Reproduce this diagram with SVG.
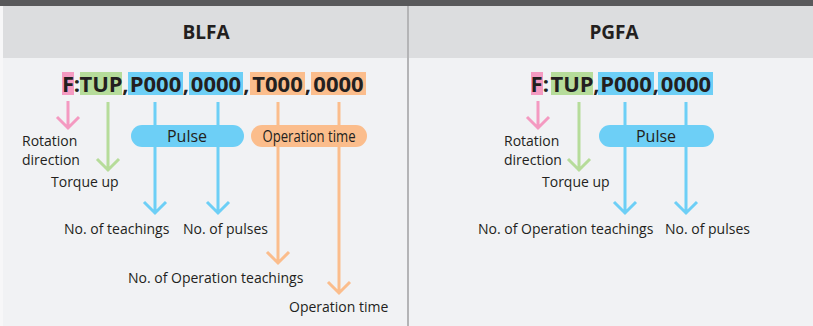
<svg xmlns="http://www.w3.org/2000/svg" width="813" height="326" viewBox="0 0 813 326">
<defs>
<style>
.lbl{font-family:"Open Sans","Liberation Sans",sans-serif;font-size:14px;fill:#231f20}
.ttl{font-family:"Open Sans","Liberation Sans",sans-serif;font-size:19px;font-weight:bold;fill:#231f20;text-anchor:middle}
.code{font-family:"Open Sans","Liberation Sans",sans-serif;font-size:22px;font-weight:bold;fill:#231f20;text-anchor:middle}
.pill{font-family:"Open Sans","Liberation Sans",sans-serif;font-size:16px;fill:#231f20;text-anchor:middle}
.a{fill:none;stroke-width:3;stroke-linejoin:miter}
.pk{stroke:#f49ac1}.gr{stroke:#b6dc9a}.bl{stroke:#6dcff6}.or{stroke:#fbbd8c}
</style>
</defs>
<rect x="0" y="0" width="813" height="326" fill="#f1f2f4"/>
<rect x="0" y="0" width="813" height="6" fill="#59595b"/>
<rect x="3" y="6" width="810" height="52" fill="#dcdddf"/>
<rect x="0" y="6" width="3" height="320" fill="#f7f7f8"/>
<rect x="407" y="6" width="2" height="320" fill="#b4b4b6"/>

<g id="blfa-header"><text class="ttl" x="206" y="39">BLFA</text></g>
<g id="pgfa-header"><text class="ttl" x="614" y="39">PGFA</text></g>

<g id="blfa-code">
<rect x="62" y="72" width="12" height="23" fill="#f49ac1"/>
<rect x="80" y="72" width="42" height="23" fill="#b6dc9a"/>
<rect x="128" y="72" width="55" height="23" fill="#6dcff6"/>
<rect x="189" y="72" width="54" height="23" fill="#6dcff6"/>
<rect x="250" y="72" width="55" height="23" fill="#fbbd8c"/>
<rect x="311" y="72" width="55" height="23" fill="#fbbd8c"/>
<text class="code" y="92"><tspan x="68">F</tspan><tspan x="77">:</tspan><tspan x="101">TUP</tspan><tspan x="125.5">,</tspan><tspan x="155.5">P000</tspan><tspan x="186">,</tspan><tspan x="216">0000</tspan><tspan x="246.5">,</tspan><tspan x="277.5">T000</tspan><tspan x="308">,</tspan><tspan x="338.5">0000</tspan></text>
</g>

<g id="pgfa-code">
<rect x="531" y="72" width="12" height="23" fill="#f49ac1"/>
<rect x="551" y="72" width="42" height="23" fill="#b6dc9a"/>
<rect x="598" y="72" width="56" height="23" fill="#6dcff6"/>
<rect x="658" y="72" width="55" height="23" fill="#6dcff6"/>
<text class="code" y="92"><tspan x="536.5">F</tspan><tspan x="546">:</tspan><tspan x="572">TUP</tspan><tspan x="596.5">,</tspan><tspan x="626">P000</tspan><tspan x="656">,</tspan><tspan x="686">0000</tspan></text>
</g>

<g id="connectors">
<path class="a pk" d="M68 101V127M57 117L68 128L79 117"/>
<path class="a gr" d="M108 102V169M97 159L108 170L119 159"/>
<path class="a bl" d="M155 102V212M144 202L155 213L166 202"/>
<path class="a bl" d="M218 102V212M207 202L218 213L229 202"/>
<path class="a or" d="M278 102V262M267 252L278 263L289 252"/>
<path class="a or" d="M339 102V292M328 282L339 293L350 282"/>
<path class="a pk" d="M538 101V127M527 117L538 128L549 117"/>
<path class="a gr" d="M579 102V169M568 159L579 170L590 159"/>
<path class="a bl" d="M625 102V212M614 202L625 213L636 202"/>
<path class="a bl" d="M686 102V212M675 202L686 213L697 202"/>
</g>

<g id="blfa-pulse"><rect x="131" y="125" width="113" height="22" rx="11" fill="#6dcff6"/><text class="pill" x="187" y="142">Pulse</text></g>
<g id="blfa-optime"><rect x="251" y="125" width="116" height="22" rx="11" fill="#fbbd8c"/><text class="pill" x="309" y="142" font-size="15" textLength="93" lengthAdjust="spacingAndGlyphs">Operation time</text></g>
<g id="pgfa-pulse"><rect x="599" y="125" width="115" height="22" rx="11" fill="#6dcff6"/><text class="pill" x="656" y="142">Pulse</text></g>

<g id="blfa-labels">
<text class="lbl" x="22" y="146">Rotation</text>
<text class="lbl" x="22" y="165">direction</text>
<text class="lbl" x="51" y="187">Torque up</text>
<text class="lbl" x="64" y="234">No. of teachings</text>
<text class="lbl" x="183" y="234">No. of pulses</text>
<text class="lbl" x="128" y="283">No. of Operation teachings</text>
<text class="lbl" x="289" y="312">Operation time</text>
</g>
<g id="pgfa-labels">
<text class="lbl" x="504" y="146">Rotation</text>
<text class="lbl" x="504" y="165">direction</text>
<text class="lbl" x="542" y="187">Torque up</text>
<text class="lbl" x="478" y="234">No. of Operation teachings</text>
<text class="lbl" x="665" y="234">No. of pulses</text>
</g>
</svg>
